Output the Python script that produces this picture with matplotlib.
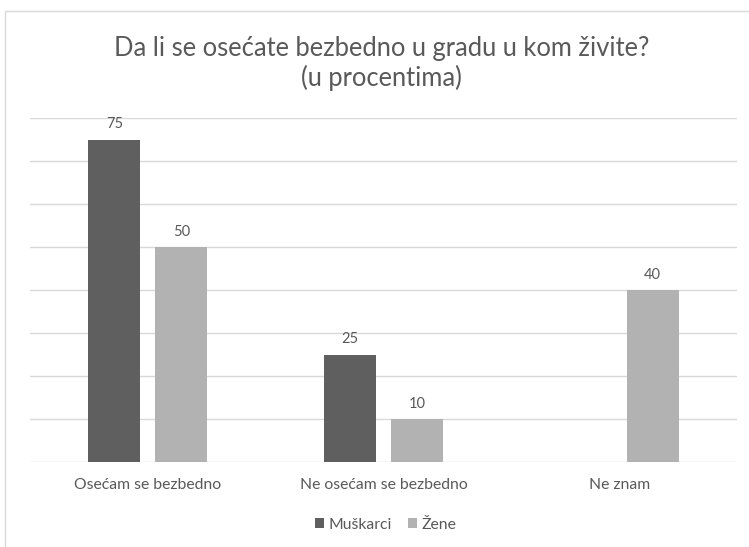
import numpy as np
import matplotlib.pyplot as plt
from matplotlib.patches import Rectangle

categories = ['Osećam se bezbedno', 'Ne osećam se bezbedno', 'Ne znam']
muskarci = [75, 25, None]
zene = [50, 10, 40]
series_names = ['Muškarci', 'Žene']

plt.rcParams['font.family'] = ['Lato', 'DejaVu Sans']
txt = '#595959'

fig = plt.figure(figsize=(7.49, 5.47), dpi=100)
ax = fig.add_axes([0.040, 0.155, 0.944, 0.629])

# chart frame (Excel style), partly cut off by the picture
fig.patches.append(Rectangle((5 / 749, -0.1), 1.2, 1 - 11 / 547 + 0.1, transform=fig.transFigure,
                             fill=False, edgecolor='#d9d9d9', linewidth=1))

x = np.arange(len(categories))
w = 0.22
off = 0.142
m_vals = [np.nan if v is None else v for v in muskarci]
b1 = ax.bar(x - off, m_vals, w, color='#5f5f5f', label=series_names[0], zorder=3)
b2 = ax.bar(x + off, zene, w, color='#b2b2b2', label=series_names[1], zorder=3)

for bars, vals in [(b1, muskarci), (b2, zene)]:
    for b, v in zip(bars, vals):
        if v is None:
            continue
        ax.annotate(str(v), (b.get_x() + b.get_width() / 2, v), xytext=(0, 6),
                    textcoords='offset points', ha='center', va='bottom',
                    fontsize=10.5, color=txt)

ax.set_xlim(-0.5, 2.5)
ax.set_ylim(0, 80)
ax.set_yticks(np.arange(0, 81, 10))
ax.yaxis.grid(True, color='#d9d9d9', linewidth=1)
ax.set_axisbelow(True)
ax.tick_params(axis='y', left=False, labelleft=False)
ax.tick_params(axis='x', bottom=False, pad=8, labelsize=11.3, labelcolor=txt)
ax.set_xticks(x)
ax.set_xticklabels(categories)
for s in ax.spines.values():
    s.set_visible(False)

fig.text(0.509, 0.884, 'Da li se osećate bezbedno u gradu u kom živite?\n(u procentima)',
         ha='center', va='center', fontsize=18.4, color=txt, linespacing=1.2)

fig.legend(loc='center', bbox_to_anchor=(0.515, 0.041), ncol=2, frameon=False,
           fontsize=11.3, labelcolor=txt, handlelength=0.6, handleheight=0.6,
           handletextpad=0.3, columnspacing=1.0)

fig.savefig('out.png', dpi=100)
